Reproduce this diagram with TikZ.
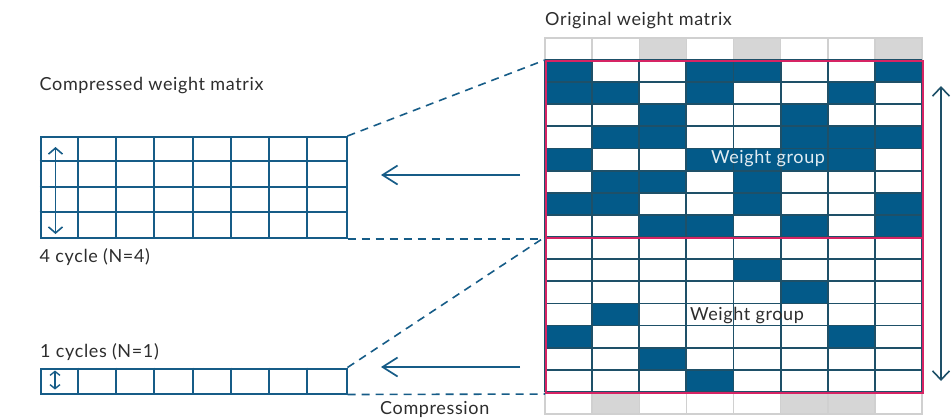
\documentclass[tikz,border=0pt]{standalone}
\usepackage{fontspec}
\setmainfont[LetterSpace=3.5]{Lato}
\usetikzlibrary{arrows.meta}
\definecolor{cellblue}{RGB}{3,90,137}
\definecolor{gridteal}{RGB}{30,80,104}
\definecolor{lightgrid}{RGB}{208,208,208}
\definecolor{grayfill}{RGB}{214,214,214}
\definecolor{grp}{RGB}{214,36,100}
\definecolor{linkblue}{RGB}{22,92,135}
\definecolor{txt}{RGB}{45,45,45}
\definecolor{wtxt}{RGB}{225,236,242}
\tikzset{
  lbl/.style={anchor=base west, inner sep=0pt, text=txt, font=\fontsize{18}{21}\selectfont},
  cellgrid/.style={draw=gridteal, line width=1.8pt},
  graycell/.style={draw=lightgrid, line width=1.5pt},
  cmbox/.style={draw=linkblue, line width=2pt, inner sep=0pt, anchor=north west},
  cmgrid/.style={draw=linkblue, line width=2pt},
  grpbox/.style={draw=grp, line width=2pt, inner sep=0pt, anchor=north west},
  link/.style={draw=linkblue, line width=1.6pt, dash pattern=on 8pt off 6pt},
  flow/.style={draw=linkblue, line width=1.7pt, -{Straight Barb[length=15pt,width=19pt]}},
  vdouble/.style={draw=gridteal, line width=1.6pt, {Straight Barb[length=9pt,width=17pt]}-{Straight Barb[length=9pt,width=17pt]}},
  cdouble/.style={draw=linkblue, line width=1.6pt, {Straight Barb[length=6pt,width=14pt]}-{Straight Barb[length=6pt,width=14pt]}},
  sdouble/.style={draw=linkblue, line width=1.4pt, {Straight Barb[length=4pt,width=10pt]}-{Straight Barb[length=4pt,width=10pt]}},
}
\begin{document}
\begin{tikzpicture}[x=1pt,y=-1pt]
\useasboundingbox (0,0) rectangle (951,418);
\def\cw{47.125}
\def\rh{22.13}
% gray top and bottom rows
\foreach \cc/\ff in {0/white,1/white,2/grayfill,3/white,4/grayfill,5/white,6/white,7/grayfill}
  \draw[graycell, fill=\ff] ({545+\cc*\cw},{60-\rh}) rectangle ++(\cw,\rh);
\foreach \cc/\ff in {0/white,1/grayfill,2/white,3/white,4/white,5/grayfill,6/grayfill,7/white}
  \draw[graycell, fill=\ff] ({545+\cc*\cw},{60+15*\rh}) rectangle ++(\cw,\rh);
% main cells
\fill[white] (545,60) rectangle (922,{60+15*\rh});
\foreach \cc/\rr in {0/0,3/0,4/0,7/0, 0/1,1/1,3/1,6/1, 2/2,5/2, 1/3,2/3,5/3,6/3,7/3,
                     0/4,3/4,4/4,5/4,6/4, 1/5,2/5,4/5, 0/6,1/6,4/6,7/6, 2/7,3/7,5/7,7/7,
                     4/9, 5/10, 1/11, 0/12,6/12, 2/13, 3/14}
  \fill[cellblue] ({545+\cc*\cw},{60+\rr*\rh}) rectangle ++(\cw,\rh);
\foreach \k in {0,...,8}
  \draw[cellgrid] ({545+\k*\cw},60) -- ({545+\k*\cw},{60+15*\rh});
\foreach \k in {0,...,15}
  \draw[cellgrid] (545,{60+\k*\rh}) -- (922,{60+\k*\rh});
% weight groups
\node[grpbox, minimum width=377pt, minimum height=177pt] (g1) at (545,60) {};
\node[grpbox, minimum width=377pt, minimum height=155pt] (g2) at (545,{60+8*\rh}) {};
\node[lbl, anchor=base, text=wtxt] (w1) at (768,163.5) {Weight group};
\node[lbl, anchor=base] (w2) at (747,320) {Weight group};
% compressed matrices
\node[cmbox, minimum width=306pt, minimum height=101pt] (cm4) at (39.5,136) {};
\foreach \k in {1,...,7}
  \draw[cmgrid] ({39.5+\k*38.25},136) -- ({39.5+\k*38.25},237);
\foreach \k in {1,2,3}
  \draw[cmgrid] (39.5,{136+\k*25.25}) -- (345.5,{136+\k*25.25});
\node[cmbox, minimum width=306pt, minimum height=25pt] (cm1) at (39.5,367.5) {};
\foreach \k in {1,...,7}
  \draw[cmgrid] ({39.5+\k*38.25},367.5) -- ({39.5+\k*38.25},392.5);
\coordinate (c4a) at (55.5,147);
\coordinate (c4b) at (55.5,234);
\draw[cdouble] (c4a) -- (c4b);
\coordinate (c1a) at (55,370.5);
\coordinate (c1b) at (55,389.5);
\draw[sdouble] (c1a) -- (c1b);
% connectors
\draw[link] (cm4.north east) -- (g1.north west);
\draw[link] (cm4.south east) -- (g1.south west);
\draw[link] (cm1.north east) -- (g2.north west);
\draw[link] (cm1.south east) -- (g2.south west);
\coordinate (a1s) at (520,175);
\coordinate (a1e) at (381,175);
\draw[flow] (a1s) -- (a1e);
\coordinate (a2s) at (520,367);
\coordinate (a2e) at (381,367);
\draw[flow] (a2s) -- (a2e);
\coordinate (v1) at (941,86);
\coordinate (v2) at (941,381);
\draw[vdouble] (v1) -- (v2);
% labels
\node[lbl] (t1) at (545,25) {Original weight matrix};
\node[lbl] (t2) at (39.5,90.5) {Compressed weight matrix};
\node[lbl] (t3) at (39.5,262.5) {4 cycle (N=4)};
\node[lbl] (t4) at (40,357.5) {1 cycles (N=1)};
\node[lbl] (t5) at (380,414.5) {Compression};
\end{tikzpicture}
\end{document}
